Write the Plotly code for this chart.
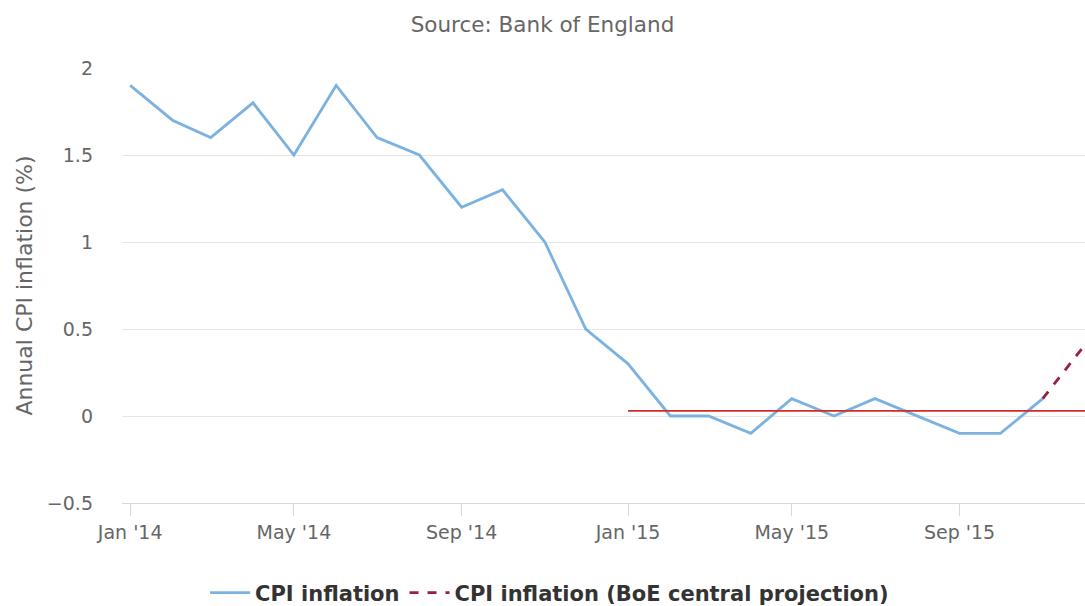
import plotly.graph_objects as go

months = ["2014-01-01", "2014-02-01", "2014-03-01", "2014-04-01", "2014-05-01", "2014-06-01",
          "2014-07-01", "2014-08-01", "2014-09-01", "2014-10-01", "2014-11-01", "2014-12-01",
          "2015-01-01", "2015-02-01", "2015-03-01", "2015-04-01", "2015-05-01", "2015-06-01",
          "2015-07-01", "2015-08-01", "2015-09-01", "2015-10-01", "2015-11-01"]
cpi = [1.9, 1.7, 1.6, 1.8, 1.5, 1.9, 1.6, 1.5, 1.2, 1.3, 1.0, 0.5,
       0.3, 0.0, 0.0, -0.1, 0.1, 0.0, 0.1, 0.0, -0.1, -0.1, 0.1]

proj_months = ["2015-11-01", "2015-12-01"]
proj_values = [0.1, 0.4]

ref_months = ["2015-01-01", "2016-01-01"]
ref_values = [0.03, 0.03]

tick_vals = ["2014-01-01", "2014-05-01", "2014-09-01", "2015-01-01", "2015-05-01", "2015-09-01"]
tick_text = ["Jan '14", "May '14", "Sep '14", "Jan '15", "May '15", "Sep '15"]

FONT = "DejaVu Sans"

fig = go.Figure()
fig.add_trace(go.Scatter(x=months, y=cpi, mode="lines", name="CPI inflation",
                         line=dict(color="#7cb2e0", width=2.8)))
fig.add_trace(go.Scatter(x=proj_months, y=proj_values, mode="lines",
                         name="CPI inflation (BoE central projection)",
                         line=dict(color="#9b1f3f", width=2.8, dash="dash")))
fig.add_trace(go.Scatter(x=ref_months, y=ref_values, mode="lines", showlegend=False,
                         line=dict(color="#d42a2a", width=1.8)))

fig.update_layout(
    width=1085, height=606,
    paper_bgcolor="white", plot_bgcolor="white",
    margin=dict(l=122, r=0, t=68, b=103),
    title=dict(text="Source: Bank of England", x=0.5, xanchor="center", y=0.9604, yanchor="middle",
               font=dict(family=FONT, size=21.5, color="#666666")),
    xaxis=dict(type="date", range=["2013-12-26", "2015-12-02"],
               tickvals=tick_vals, ticktext=tick_text,
               showgrid=False, showline=True, linecolor="#d8d8d8", linewidth=1,
               ticks="outside", ticklen=12, tickcolor="#d8d8d8", ticklabelstandoff=0,
               tickfont=dict(family=FONT, size=19, color="#666666")),
    yaxis=dict(range=[-0.5, 2], tickvals=[-0.5, 0, 0.5, 1, 1.5, 2],
               ticktext=["−0.5", "0", "0.5", "1", "1.5", "2"],
               showgrid=True, gridcolor="#e6e6e6", gridwidth=1, zeroline=False,
               ticks="", ticklabelstandoff=28,
               tickfont=dict(family=FONT, size=19, color="#666666"),
               title=dict(text="Annual CPI inflation (%)", standoff=8,
                          font=dict(family=FONT, size=22, color="#666666"))),
    legend=dict(orientation="h", x=0.444, xanchor="center",
                yref="container", y=0.0215, yanchor="middle",
                font=dict(family=FONT, size=21, color="#333333", weight="bold"),
                itemwidth=40),
    showlegend=True,
)

fig.write_html("out.html", config={"displayModeBar": False},
               post_script="document.body.style.margin='0';document.body.style.overflow='hidden';")
